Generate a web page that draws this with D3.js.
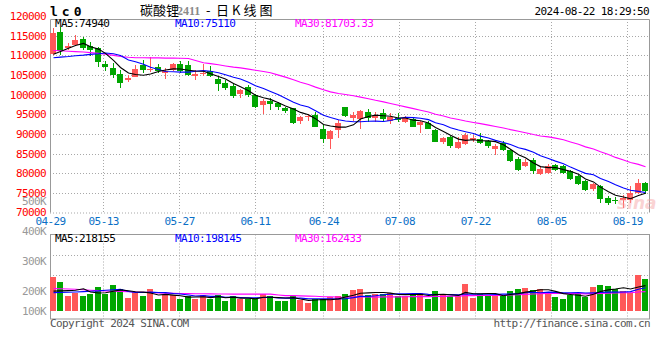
<!DOCTYPE html>
<html><head><meta charset="utf-8">
<script src="https://cdn.jsdelivr.net/npm/d3@7"></script>
<style>
body{margin:0;background:#fff}
svg{display:block}
text{font-family:"DejaVu Sans Mono",monospace;font-size:11px;letter-spacing:-0.6px}
</style>
</head><body>
<svg id="c" width="660" height="360"></svg>
<script>
const dates = ["04-29","04-30","05-06","05-07","05-08","05-09","05-10","05-13","05-14","05-15",
"05-16","05-17","05-20","05-21","05-22","05-23","05-24","05-27","05-28","05-29",
"05-30","05-31","06-03","06-04","06-05","06-06","06-07","06-11","06-12","06-13",
"06-14","06-17","06-18","06-19","06-20","06-21","06-24","06-25","06-26","06-27",
"06-28","07-01","07-02","07-03","07-04","07-05","07-08","07-09","07-10","07-11",
"07-12","07-15","07-16","07-17","07-18","07-19","07-22","07-23","07-24","07-25",
"07-26","07-29","07-30","07-31","08-01","08-02","08-05","08-06","08-07","08-08",
"08-09","08-12","08-13","08-14","08-15","08-16","08-19","08-20","08-21","08-22"];

const open = [110300,115900,111900,112750,114150,112500,111900,107750,106900,105150,
103750,104600,107500,106250,107100,105400,106250,107750,107500,104750,
105420,106100,104100,102900,102200,100100,101900,100000,97350,98350,
97750,96500,96500,93350,94250,94850,91350,88600,91100,96750,
94000,93750,95650,94150,95250,93400,94150,93150,93850,92150,
92900,91000,88050,89150,86400,87450,88550,88750,88300,86050,
87700,85800,83700,81800,83250,79900,80050,82150,81800,80450,
79200,78100,75900,76800,73700,73130,73130,73300,75000,77550];
const high = [116900,117100,113100,115250,114600,113300,112250,108500,108100,106250,
105000,107500,108750,109600,107750,106900,108100,108500,108600,106250,
107750,107250,104750,103600,102900,101500,102500,100250,98850,99150,
98150,96900,96650,94650,95000,95650,92350,91100,93600,96900,
95650,96100,96250,95650,96250,95250,95250,94600,94150,93350,
93350,91250,89300,89400,89150,90250,89750,90250,88550,87450,
88300,86200,84100,83700,83850,81800,82400,82400,82150,80700,
79450,78350,77600,77100,74100,74000,74330,76700,78600,77700];
const low = [110000,110100,111400,112300,111400,109750,107100,106000,104200,101700,
103100,104400,105600,105850,105400,103900,106100,105600,104750,103750,
104750,104600,100900,101250,99150,99150,99500,96500,95100,96100,
96100,95250,92600,92600,93350,91650,87750,86100,89000,94250,
93350,91350,93150,93150,93150,92500,93000,92750,91650,90250,
91150,87900,87350,86500,86200,87200,88050,87450,86400,84750,
85550,82850,80550,81550,79900,79450,79900,80550,79900,78200,
77100,75450,75400,72450,71850,72200,71200,72450,74600,74800];
const close = [115600,111150,112500,114000,111900,111250,108300,107100,105000,102900,
104150,106400,106250,106650,106100,106000,107750,106100,105000,105250,
105580,104750,102600,101600,99700,101250,99850,96750,98500,97600,
96900,95900,92750,94250,94650,91850,88600,90650,92900,94600,
94850,95900,94000,94600,93750,94250,93600,94150,91750,93000,
91350,88050,89050,86900,88050,89750,88900,87650,86800,87050,
85800,83100,80750,82850,80550,81150,81800,80900,80150,78450,
77350,75700,77300,73450,72500,72950,73600,75000,77550,75400];
// volume in thousands of lots
const volume = [297,252,123,153,123,145,205,139,221,184,
104,159,123,184,92,129,129,92,123,98,
136,92,136,74,123,92,92,104,145,123,
74,74,123,83,61,92,92,114,123,145,
175,184,129,139,145,148,123,123,145,153,
92,165,139,123,123,230,104,139,136,123,
123,165,184,196,175,184,159,114,92,136,
145,114,205,221,212,184,168,153,312,275];

// moving-average values before a full window exists
const ma5Head = [110250,111000,111800,112500];
const ma10Head = [109400,109550,109700,109900,110050,110250,110400,110600,110400];
const ma30Head = [111250,111150,111050,110950,110850,110700,110500,110300,110000,109700,
109500,109400,109400,109350,109350,109300,109300,109250,109200,108700,
108100,107900,107600,107300,107000,106800,106500,106200,105900];
const volMa5Head = [168,170,172,175];
const volMa10Head = [154,156,158,160,163,166,170,175,180];
const volMa30Head = [191,189,187,185,180,176,172,169,167,165,163,160,157,154,151,149,147,146,
145,144,143,142,141,141,140,140,140,140,140];

const priceTicks = [70000,75000,80000,85000,90000,95000,100000,105000,110000,115000,120000];
const volTickValues = [100,200,300,400,500];
const volTickLabels = ["100K","200K","300K","400K","500K"];
const dateTicks = ["04-29","05-13","05-27","06-11","06-24","07-08","07-22","08-05","08-19"];

const title = {code:"lc0", name:"碳酸锂", contract:"2411", suffix:"日K线图", time:"2024-08-22 18:29:50"};
const maLabels = ["MA5:74940","MA10:75110","MA30:81703.33"];
const volMaLabels = ["MA5:218155","MA10:198145","MA30:162433"];

const RED="#ff5858", GREEN="#00a600", GRID="#a8a8a8", FRAME="#999";
const maColors = ["#000","#0000ff","#ff00ff"];

const svg = d3.select("#c");
const L=50, R=650, T=19, B=212.5, VT=234.5, VB=319, VFLOOR=311;

const xb = d3.scaleBand().domain(dates).range([L,R]).padding(0);
const xp = d3.scalePoint().domain(d3.range(dates.length)).range([L,R]);
const y = d3.scaleLinear().domain([70000,119250]).range([B,T]);
const vy = d3.scaleLinear().domain([0,700]).range([309.4,309.4-0.109*700]);
const vLabelY = d3.scaleLinear().domain([100,500]).range([320.7,200.7]);

function ma(arr, n, head){
  return arr.map((v,i)=> i<n-1 ? head[i] : d3.mean(arr.slice(i-n+1,i+1)));
}

// ---- grid main
const g = svg.append("g");
g.selectAll(".hg").data(priceTicks.filter(v=>v>70000 && v<120000)).join("line")
 .attr("x1",L).attr("x2",R-1).attr("y1",d=>Math.round(y(d))+0.5).attr("y2",d=>Math.round(y(d))+0.5)
 .attr("stroke",GRID).attr("stroke-dasharray","1,2");
g.append("line").attr("x1",L).attr("x2",R-1).attr("y1",B+0.5).attr("y2",B+0.5).attr("stroke",GRID).attr("stroke-dasharray","1,2");
const tickIdx = dateTicks.map(d=>dates.indexOf(d));
g.selectAll(".vg").data(tickIdx.slice(1)).join("line")
 .attr("x1",d=>Math.round(xp(d))+0.5).attr("x2",d=>Math.round(xp(d))+0.5).attr("y1",T).attr("y2",B)
 .attr("stroke",GRID).attr("stroke-dasharray","1,2");
// frame
g.append("path").attr("d",`M${L+0.5},${B}V${T+0.5}H${R-0.5}V${B}`).attr("fill","none").attr("stroke",FRAME);

// ---- volume grid
const gv = svg.append("g");
gv.selectAll(".vh").data([255.5,275.5]).join("line")
 .attr("x1",L).attr("x2",R-1).attr("y1",d=>d).attr("y2",d=>d).attr("stroke",GRID).attr("stroke-dasharray","1,2");
gv.selectAll(".vv").data(tickIdx.slice(1)).join("line")
 .attr("x1",d=>Math.round(xp(d))+0.5).attr("x2",d=>Math.round(xp(d))+0.5).attr("y1",VT).attr("y2",VB)
 .attr("stroke",GRID).attr("stroke-dasharray","1,2");
gv.append("rect").attr("x",L+0.5).attr("y",VT).attr("width",R-L-1).attr("height",VB-VT).attr("fill","none").attr("stroke",FRAME);

// ---- candles
const cg = svg.append("g").attr("shape-rendering","crispEdges");
dates.forEach((d,i)=>{
  const bx = Math.floor(xb(d));
  const up = close[i]>=open[i];
  const col = up?RED:GREEN;
  const top = y(Math.max(open[i],close[i])), bot = y(Math.min(open[i],close[i]));
  cg.append("rect").attr("x",bx+3).attr("width",1).attr("y",y(high[i])).attr("height",y(low[i])-y(high[i])).attr("fill",col);
  cg.append("rect").attr("x",bx).attr("width",6).attr("y",top).attr("height",Math.max(1,bot-top)).attr("fill",col);
  // volume
  cg.append("rect").attr("x",bx).attr("width",6).attr("y",vy(volume[i])).attr("height",VFLOOR-vy(volume[i])).attr("fill",col);
});

// watermark
svg.append("text").attr("x",617).attr("y",209).text("sina")
 .style("font-family","'DejaVu Sans'").style("font-style","italic").style("font-weight","bold")
 .style("font-size","17px").style("letter-spacing","0").attr("fill","#f4a0a0").attr("opacity",0.45);

// ---- MA lines
const cx = i => Math.floor(xb(dates[i]))+3.5;
const priceMAs = [ma(close,5,ma5Head), ma(close,10,ma10Head), ma(close,30,ma30Head)];
const volMAs = [ma(volume,5,volMa5Head), ma(volume,10,volMa10Head), ma(volume,30,volMa30Head)];
[2,1,0].forEach(k=>{
  svg.append("path").datum(priceMAs[k]).attr("fill","none").attr("stroke",maColors[k]).attr("stroke-width",1.1)
   .attr("d",d3.line().x((v,i)=>cx(i)).y(v=>y(v)));
  svg.append("path").datum(volMAs[k]).attr("fill","none").attr("stroke",maColors[k]).attr("stroke-width",1.1)
   .attr("d",d3.line().x((v,i)=>cx(i)).y(v=>vy(v)));
});

// ---- axis labels
svg.selectAll(".pl").data(priceTicks).join("text")
 .attr("x",46).attr("y",d=>y(d)).attr("dy","0.36em").attr("text-anchor","end").attr("fill","#ff0000").text(d=>d);
svg.selectAll(".vl").data(volTickValues).join("text")
 .attr("x",46).attr("y",d=>Math.min(vLabelY(d),310.7)).attr("dy","0.36em").attr("text-anchor","end").attr("fill","#999")
 .text((d,i)=>volTickLabels[i]);
svg.selectAll(".dl").data(tickIdx).join("text")
 .attr("x",d=>xp(d)+0.5).attr("y",225).attr("text-anchor","middle").attr("fill","#0a6fc6").text(d=>dates[d]);

// ---- header
svg.append("text").attr("x",50).attr("y",16).text(title.code)
 .style("font-weight","bold").style("font-size","13px").style("letter-spacing","4px");
svg.append("text").attr("x",140).attr("y",15).text(title.name)
 .style("font-family","'Noto Sans CJK SC'").style("font-size","13px").style("letter-spacing","0");
svg.append("text").attr("x",177).attr("y",15).text(title.contract).attr("fill","#8a8a8a")
 .style("font-family","'Liberation Serif'").style("font-size","12px").style("font-weight","bold").style("letter-spacing","0");
svg.append("text").attr("x",206).attr("y",15).text("-")
 .style("font-family","'Noto Sans CJK SC'").style("font-size","13px").style("letter-spacing","0");
svg.append("text").attr("x",216).attr("y",15).text(title.suffix)
 .style("font-family","'Noto Sans CJK SC'").style("font-size","13px").style("letter-spacing","3px");
svg.append("text").attr("x",649).attr("y",15).attr("text-anchor","end").text(title.time);

const maX = [55,175,295];
maLabels.forEach((t,k)=>svg.append("text").attr("x",maX[k]).attr("y",27).attr("fill",maColors[k]).text(t));
volMaLabels.forEach((t,k)=>svg.append("text").attr("x",maX[k]).attr("y",242).attr("fill",maColors[k]).text(t));

svg.append("text").attr("x",50).attr("y",327).attr("fill","#555").text("Copyright 2024 SINA.COM");
svg.append("text").attr("x",650).attr("y",327).attr("text-anchor","end").attr("fill","#555").text("http://finance.sina.com.cn");
</script>
</body></html>
